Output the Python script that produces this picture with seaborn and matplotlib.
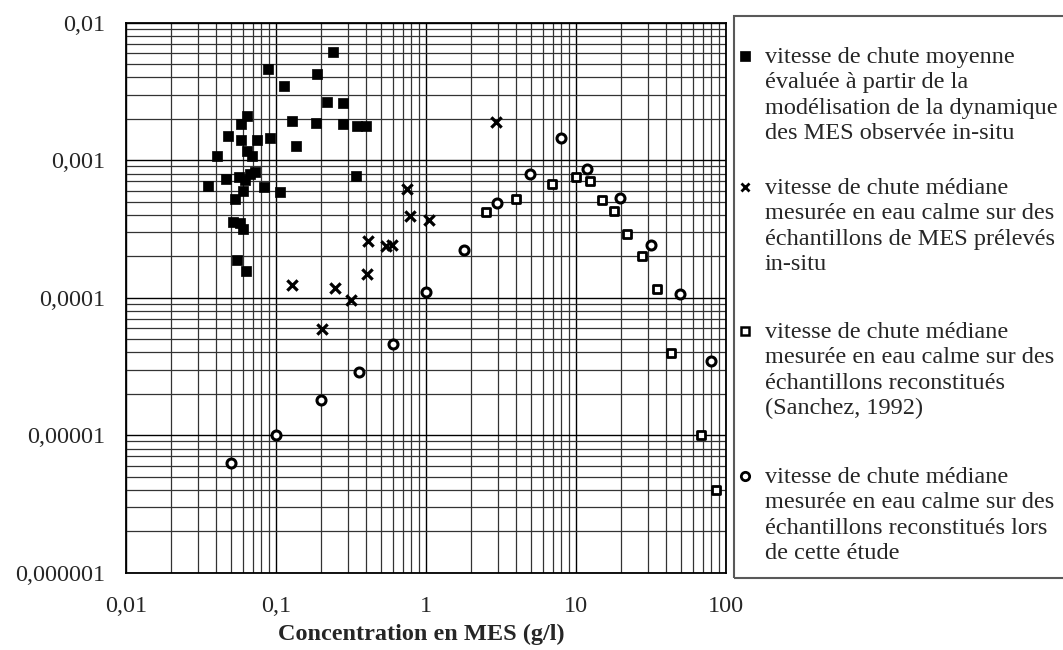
import numpy as np
import pandas as pd
import seaborn as sns
import matplotlib.pyplot as plt
from matplotlib.lines import Line2D
from matplotlib.patches import Rectangle

# Data (log-log axes)
# filled squares: mean settling velocity from in-situ model
modele_x = [0.241, 0.0881, 0.1867, 0.113, 0.2203, 0.2785, 0.0644, 0.0587, 0.1284, 0.1856,
            0.2785, 0.3483, 0.398, 0.0476, 0.0587, 0.0747, 0.0916, 0.1366, 0.0644, 0.0695,
            0.0406, 0.3398, 0.0724, 0.0671, 0.0567, 0.0618, 0.0466, 0.0352, 0.0832, 0.1068,
            0.0603, 0.0535, 0.0514, 0.0575, 0.0605, 0.0552, 0.0628]
modele_y = [0.00609, 0.00461, 0.00421, 0.00348, 0.002665, 0.002594, 0.002097, 0.001842, 0.001928, 0.001864,
            0.001824, 0.001773, 0.001782, 0.001492, 0.001403, 0.001396, 0.00145, 0.001275, 0.001167, 0.001078,
            0.001067, 0.000764, 0.000825, 0.000798, 0.000751, 0.000718, 0.000726, 0.000649, 0.000635, 0.00059,
            0.0006, 0.000522, 0.000355, 0.000348, 0.000314, 0.000188, 0.000157]

# crosses: median velocity, in-situ samples
insitu_x = [0.7434, 0.7784, 1.042, 0.4087, 0.5388, 0.5934, 0.4062, 0.1272, 0.2485, 0.3162, 0.2025, 2.929]
insitu_y = [0.000614, 0.000393, 0.000369, 0.00026, 0.000238, 0.000242, 0.000149, 0.000123, 0.000118,
            0.0000962, 0.0000592, 0.001886]

# open squares: Sanchez 1992
sanchez_x = [2.512, 3.999, 6.95, 9.954, 12.4, 14.9, 17.92, 21.88, 27.67, 34.67, 42.98, 68.43, 86.15]
sanchez_y = [0.00042, 0.000522, 0.000675, 0.000751, 0.000702, 0.000513, 0.000427, 0.000289, 0.000201,
             0.000115, 0.0000398, 0.00000998, 0.00000397]

# open circles: this study
etude_x = [1.0, 0.6, 0.3593, 0.2004, 0.0995, 0.0499, 1.784, 2.974, 4.958, 7.907, 11.89, 19.74, 31.62, 49.35, 79.07]
etude_y = [0.0001105, 0.0000461, 0.000029, 0.0000181, 0.00000998, 0.0000063, 0.000222, 0.000491, 0.000794,
           0.001457, 0.000859, 0.000534, 0.000242, 0.000107, 0.0000346]

x_ticks = [0.01, 0.1, 1, 10, 100]
x_labels = ['0,01', '0,1', '1', '10', '100']
y_ticks = [0.000001, 0.00001, 0.0001, 0.001, 0.01]
y_labels = ['0,000001', '0,00001', '0,0001', '0,001', '0,01']

legend_texts = [
    ['vitesse de chute moyenne', 'évaluée à partir de la', 'modélisation de la dynamique',
     'des MES observée in-situ'],
    ['vitesse de chute médiane', 'mesurée en eau calme sur des', 'échantillons de MES prélevés', 'in-situ'],
    ['vitesse de chute médiane', 'mesurée en eau calme sur des', 'échantillons reconstitués',
     '(Sanchez, 1992)'],
    ['vitesse de chute médiane', 'mesurée en eau calme sur des', 'échantillons reconstitués lors',
     'de cette étude'],
]

sns.set_style('white')
plt.rcParams['font.family'] = ['Liberation Serif', 'DejaVu Serif']
FS = 17.5

W, H = 1063, 650
fig = plt.figure(figsize=(W / 100, H / 100), dpi=100)
ax = fig.add_axes([126 / W, 1 - 572.7 / H, 600 / W, 550 / H])

ax.set_xscale('log')
ax.set_yscale('log')
ax.set_xlim(0.01, 100)
ax.set_ylim(0.000001, 0.01)

ax.grid(True, which='major', color='black', linewidth=1.0)
ax.grid(True, which='minor', color='0.2', linewidth=0.9)
ax.set_axisbelow(True)

sns.scatterplot(x=modele_x, y=modele_y, ax=ax, marker='s', s=50, color='black',
                edgecolor='black', linewidth=0.5, zorder=3)
sns.scatterplot(x=insitu_x, y=insitu_y, ax=ax, marker='x', s=55, color='black',
                linewidth=2.3, zorder=3)
sns.scatterplot(x=sanchez_x, y=sanchez_y, ax=ax, marker='s', s=40, facecolor='white',
                edgecolor='black', linewidth=2.0, zorder=3)
sns.scatterplot(x=etude_x, y=etude_y, ax=ax, marker='o', s=42, facecolor='white',
                edgecolor='black', linewidth=2.2, zorder=3)

ax.set_xticks(x_ticks)
ax.set_xticklabels(x_labels, fontsize=FS)
ax.set_yticks(y_ticks)
ax.set_yticklabels(y_labels, fontsize=FS)
ax.tick_params(axis='both', which='both', length=0)
ax.tick_params(axis='x', pad=17)
ax.tick_params(axis='y', pad=15)

for sp in ax.spines.values():
    sp.set_color('black')
    sp.set_linewidth(1.3)

ax.set_xlabel('Concentration en MES (g/l)', fontsize=FS, fontweight='bold')
ax.xaxis.set_label_coords(0.493, -0.093)

# legend box drawn in figure pixels
fig.patches.append(Rectangle((734 / W, 1 - 578 / H), 400 / W, 562 / H, transform=fig.transFigure,
                             facecolor='none', edgecolor='0.35', linewidth=1.5))

entry_top = [55, 186, 330, 475]
pitch = 25.3
handles = [
    dict(marker='s', markersize=6.5, markerfacecolor='black', markeredgecolor='black', markeredgewidth=0.5),
    dict(marker='x', markersize=6, markeredgecolor='black', markeredgewidth=2.0),
    dict(marker='s', markersize=6, markerfacecolor='white', markeredgecolor='black', markeredgewidth=1.8),
    dict(marker='o', markersize=6, markerfacecolor='white', markeredgecolor='black', markeredgewidth=2.0),
]
for top, lines, hd in zip(entry_top, legend_texts, handles):
    fig.add_artist(Line2D([745 / W], [1 - (top + 1) / H], transform=fig.transFigure,
                          linestyle='none', **hd))
    for i, line in enumerate(lines):
        fig.text(765 / W, 1 - (top + i * pitch) / H, line, fontsize=FS,
                 ha='left', va='center_baseline')

fig.savefig('out.png', dpi=100, facecolor='white')
